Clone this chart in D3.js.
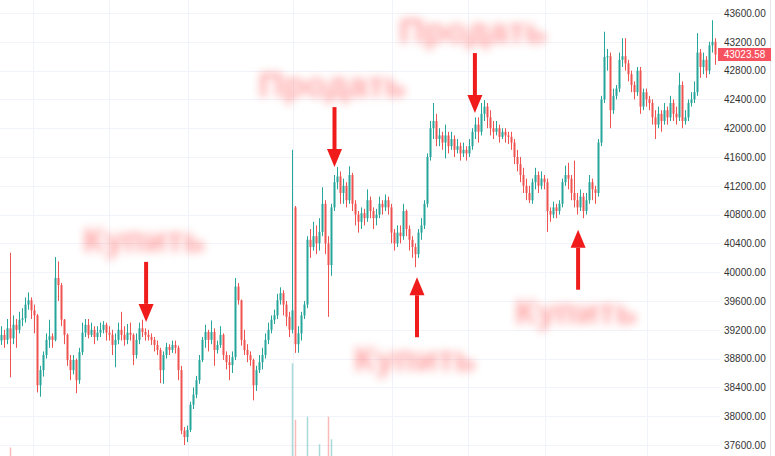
<!DOCTYPE html>
<html><head><meta charset="utf-8">
<script src="https://cdn.jsdelivr.net/npm/d3@7"></script>
<style>html,body{margin:0;padding:0;background:#fff;overflow:hidden}</style>
</head><body><svg id="c" width="775" height="456"></svg>
<script>
const open=[
39050,39130,39060,39220,39080,39270,39200,39340,39360,39550,
39610,39470,39400,38430,38640,38850,39060,39110,39060,39920,
39820,39340,39130,38780,38640,38780,38500,38890,39160,39270,
39130,39200,39100,39160,39200,39270,39160,39130,38990,39060,
39200,39130,39060,39160,39130,38850,39060,39220,39170,39130,
39100,39060,38990,38920,38640,38850,38960,38920,38990,38950,
38640,37800,37710,37810,38160,38300,38500,38780,39060,39170,
39060,39170,38920,38990,39130,38850,38750,38710,38820,39800,
39610,39060,38920,38850,38780,38430,38640,38750,38850,39060,
39200,39340,39400,39610,39710,39550,39380,39200,40900,39000,
39150,39400,39550,40450,40350,40500,40400,40560,40950,40400,
40100,40900,41250,41330,41100,41200,41000,41350,40950,40800,
40700,40820,40750,41000,40850,40750,40800,40950,40900,41000,
40900,40550,40400,40550,40500,40850,40600,40450,40350,40250,
40550,40650,40950,41600,42000,42100,41850,41900,41800,41900,
41750,41850,41700,41750,41650,41700,41650,41750,41950,42050,
41950,42200,42300,42150,42000,41950,42000,41880,41950,41900,
41880,41800,41600,41500,41350,41200,41100,41000,41250,41350,
41200,41300,41250,40850,40800,40900,40850,40950,41250,41350,
41300,41100,41000,40900,41050,40850,41000,41250,41150,41100,
41800,42400,42990,43000,42250,42450,42550,42950,43000,42900,
42750,42600,42500,42800,42300,42500,42400,42350,42150,42050,
42200,42100,42250,42150,42350,42200,42150,42600,42100,42150,
42350,42400,42500,43050,42850,42950,42800,43150,43200];
const high=[
39250,39200,39350,40270,39400,39350,39450,39500,39650,39720,
39650,39550,39420,38700,38900,39150,39340,39150,40210,40150,
39850,39350,39150,38850,38850,38800,38950,39300,39350,39350,
39300,39250,39250,39300,39320,39300,39250,39200,39150,39300,
39450,39250,39280,39300,39150,39150,39300,39340,39220,39200,
39150,39100,39050,38950,38900,39020,39000,39050,39050,38980,
38700,37850,37870,38200,38400,38560,38850,39100,39270,39200,
39330,39220,39050,39250,39150,38900,38850,38900,39920,39850,
39620,39200,39000,38900,38800,38700,38850,38950,39150,39300,
39400,39480,39700,39790,39750,39600,39450,41700,40920,39250,
39450,39600,40500,40600,40700,40650,40750,41180,41000,40500,
40950,41350,41460,41400,41300,41250,41470,41380,41000,40850,
40900,40880,41150,41050,40900,40880,41050,41000,41080,41050,
40950,40600,40650,40650,40950,40870,40650,40500,40400,40600,
40750,41000,41650,42100,42350,42200,42000,41950,42050,41950,
41950,41900,41850,41800,41800,41750,41850,42000,42150,42150,
42350,42390,42350,42250,42100,42100,42050,42000,42000,41950,
41950,41850,41700,41600,41450,41300,41200,41300,41450,41400,
41400,41350,41300,40900,40980,40950,41000,41300,41480,41520,
41350,41550,41100,41150,41100,41100,41350,41300,41200,41850,
42450,43340,43100,43050,42550,42600,43050,43250,43250,42950,
42800,42650,42850,42850,42550,42550,42450,42400,42250,42300,
42250,42350,42300,42450,42400,42300,42770,42650,42250,42400,
42500,42650,43320,43100,43050,43000,43200,43500,43250];
const low=[
38990,38950,39000,38540,39000,38950,39150,39250,39300,39480,
39350,39150,38330,38270,38550,38800,38950,38950,39040,39600,
39250,39000,38700,38500,38580,38320,38450,38850,39100,39080,
39100,39000,39050,39100,39150,39050,39050,38850,38680,39000,
39050,38980,39000,39050,38710,38800,39000,39100,39050,39050,
38990,38900,38850,38460,38450,38800,38850,38880,38870,38500,
37750,37600,37640,37780,38100,38250,38450,38750,38950,38900,
39000,38700,38870,38950,38780,38650,38500,38600,38780,39550,
38980,38850,38750,38700,38220,38350,38600,38650,38800,39000,
39150,39280,39350,39550,39400,39250,39100,39150,38880,38880,
39050,39350,39500,40200,40300,40250,40300,40500,40250,39380,
39950,40850,41150,40950,40950,40900,40950,40850,40650,40550,
40600,40650,40700,40750,40600,40650,40750,40800,40850,40800,
40400,40300,40350,40400,40450,40500,40300,40200,40070,40200,
40450,40600,40900,41550,41850,41750,41750,41700,41580,41650,
41700,41600,41650,41550,41600,41550,41600,41700,41850,41800,
41900,42100,42000,41900,41850,41900,41800,41850,41800,41780,
41700,41500,41400,41250,41100,41000,40960,40950,41150,41100,
41150,41150,40560,40700,40750,40750,40800,40900,41200,41150,
41000,40900,40800,40850,40750,40800,40950,41000,40950,41050,
41750,42350,42800,42000,42200,42400,42500,42850,42800,42650,
42500,42400,42450,42200,42250,42300,42250,42050,41850,42000,
41950,42050,42050,42100,42100,42050,42100,42000,42050,42100,
42300,42350,42450,42700,42750,42700,42750,43050,42880];
const close=[
39130,39060,39220,39080,39270,39200,39340,39360,39550,39610,
39470,39400,38430,38640,38850,39060,39110,39060,39920,39820,
39340,39130,38780,38640,38780,38500,38890,39160,39270,39130,
39200,39100,39160,39200,39270,39160,39130,38990,39060,39200,
39130,39060,39160,39130,38850,39060,39220,39170,39130,39100,
39060,38990,38920,38640,38850,38960,38920,38990,38950,38640,
37800,37710,37810,38160,38300,38500,38780,39060,39170,39060,
39170,38920,38990,39130,38850,38750,38710,38820,39800,39610,
39060,38920,38850,38780,38430,38640,38750,38850,39060,39200,
39340,39400,39610,39710,39550,39380,39200,39470,39000,39150,
39400,39550,40450,40350,40500,40400,40560,40950,40400,40100,
40900,41250,41330,41100,41200,41000,41350,40950,40800,40700,
40820,40750,41000,40850,40750,40800,40950,40900,41000,40900,
40550,40400,40550,40500,40850,40600,40450,40350,40250,40550,
40650,40950,41600,42000,42100,41850,41900,41800,41900,41750,
41850,41700,41750,41650,41700,41650,41750,41950,42050,41950,
42200,42300,42150,42000,41950,42000,41880,41950,41900,41880,
41800,41600,41500,41350,41200,41100,41000,41250,41350,41200,
41300,41250,40850,40800,40900,40850,40950,41250,41350,41300,
41100,41000,40900,41050,40850,41000,41250,41150,41100,41800,
42400,42990,43000,42250,42450,42550,42950,43000,42900,42750,
42600,42500,42800,42300,42500,42400,42350,42150,42050,42200,
42100,42250,42150,42350,42200,42150,42600,42100,42150,42350,
42400,42500,43050,42850,42950,42800,43150,43200,43023.58];

const priceTicks=[37600,38000,38400,38800,39200,39600,40000,40400,40800,41200,41600,42000,42400,42800,43200,43600];
const timeGridIdx=[10.5,36,62,97,130,155.5,181,215];
const volumeIdx=[3,97,98,102,106,109,110];
const volumeVal=[1100,5200,2450,2600,1250,2600,1500];
const lastPrice=43023.58;
const signalLabels=["Купить","Продать","Купить","Продать","Купить"];
const signalIdx=[48.2,111,138.5,157.8,192.2];
const signalPrice=[39310,41460,39930,42210,40590];
const signalDir=["down","down","up","down","up"];

const UP="#26a69a", DOWN="#ef5350";
const svg=d3.select("#c");
const n=close.length;
const x=d3.scaleLinear().domain([0,n-1]).range([1.5,1.5+3*(n-1)]);
const y=d3.scaleLinear().domain([37600,43600]).range([445,13]);
const vy=d3.scaleLinear().domain([0,6000]).range([470,347]);

const defs=svg.append("defs");
defs.append("filter").attr("id","blur").attr("x","-30%").attr("y","-80%").attr("width","160%").attr("height","260%")
  .append("feGaussianBlur").attr("stdDeviation",4.2);

// grid
const g=svg.append("g");
g.selectAll("line.h").data(priceTicks).join("line").attr("class","h")
  .attr("x1",0).attr("x2",720).attr("y1",d=>Math.round(y(d))+0.5).attr("y2",d=>Math.round(y(d))+0.5)
  .attr("stroke","#f0f3fa").attr("stroke-width",1);
g.selectAll("line.v").data(timeGridIdx).join("line").attr("class","v")
  .attr("x1",d=>Math.round(x(d))+0.5).attr("x2",d=>Math.round(x(d))+0.5).attr("y1",0).attr("y2",456)
  .attr("stroke","#f0f3fa").attr("stroke-width",1);
svg.append("line").attr("x1",770.5).attr("x2",770.5).attr("y1",0).attr("y2",456).attr("stroke","#e6e8ee");

// volume
svg.append("g").selectAll("rect").data(volumeIdx).join("rect")
  .attr("x",d=>x(d)-0.75).attr("width",1.5)
  .attr("y",(d,k)=>vy(volumeVal[k])).attr("height",(d,k)=>vy(0)-vy(volumeVal[k]))
  .attr("fill",d=>close[d]>=open[d]?UP:DOWN).attr("opacity",0.4);

// candles
const idx=d3.range(n);
const cg=svg.append("g");
cg.selectAll("line").data(idx).join("line")
  .attr("x1",i=>x(i)).attr("x2",i=>x(i)).attr("y1",i=>y(high[i])).attr("y2",i=>y(low[i]))
  .attr("stroke",i=>close[i]>=open[i]?UP:DOWN).attr("stroke-width",1);
cg.selectAll("rect").data(idx).join("rect")
  .attr("x",i=>x(i)-1).attr("width",2)
  .attr("y",i=>y(Math.max(open[i],close[i])))
  .attr("height",i=>Math.max(1,Math.abs(y(open[i])-y(close[i]))))
  .attr("fill",i=>close[i]>=open[i]?UP:DOWN);

// axis
const ax=svg.append("g").attr("transform","translate(724,0)")
  .call(d3.axisRight(y).tickValues(priceTicks).tickFormat(d3.format(".2f")).tickSize(0).tickPadding(0));
ax.select(".domain").remove();
ax.selectAll("text").attr("font-family","Liberation Sans, Arial, sans-serif").attr("font-size",10).attr("fill","#333");

// last price label
const ly=y(lastPrice);
svg.append("rect").attr("x",718).attr("y",ly-6.5).attr("width",53).attr("height",13).attr("fill","#f7525f");
svg.append("text").attr("x",744.5).attr("y",ly).attr("dy","0.35em").attr("text-anchor","middle")
  .attr("font-family","Liberation Sans, Arial, sans-serif").attr("font-size",10).attr("fill","#fff").text(d3.format(".2f")(lastPrice));

// signals
const sg=svg.append("g");
signalLabels.forEach((lab,k)=>{
  const ax0=x(signalIdx[k]), ty=y(signalPrice[k]);
  const dir=signalDir[k]==="down"?1:-1;
  const tail=ty-dir*60;
  const headBase=ty-dir*18;
  sg.append("line").attr("x1",ax0).attr("x2",ax0).attr("y1",tail).attr("y2",headBase)
    .attr("stroke","#f01b1b").attr("stroke-width",4);
  sg.append("path").attr("d",`M${ax0-7.5},${headBase}L${ax0+7.5},${headBase}L${ax0},${ty}Z`).attr("fill","#f01b1b");
  const ty2=tail-dir*22;
  sg.append("text").attr("x",ax0-2).attr("y",ty2).attr("dy","0.35em").attr("text-anchor","middle")
    .attr("font-family","Liberation Sans, Arial, sans-serif").attr("font-weight","bold").attr("font-size",35)
    .attr("fill","#ff6a6a").attr("opacity",0.6).attr("filter","url(#blur)").text(lab);
});
</script></body></html>
